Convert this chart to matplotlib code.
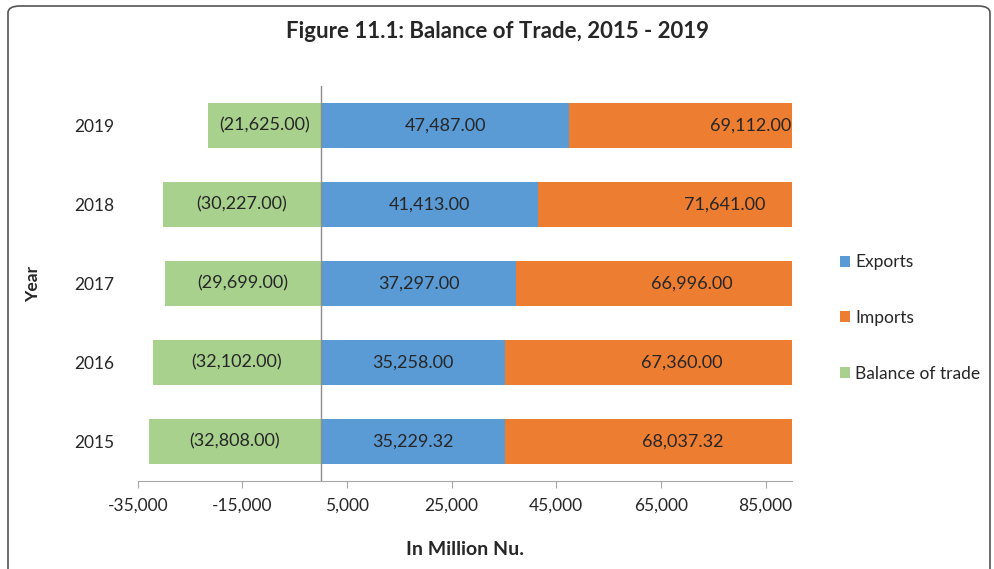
import matplotlib
import matplotlib.pyplot as plt
from matplotlib.patches import FancyBboxPatch

matplotlib.use('Agg')
plt.rcParams['font.family'] = ['Lato', 'DejaVu Sans']

years = ['2015', '2016', '2017', '2018', '2019']
exports = [35229.32, 35258.00, 37297.00, 41413.00, 47487.00]
imports = [68037.32, 67360.00, 66996.00, 71641.00, 69112.00]
balance = [-32808.00, -32102.00, -29699.00, -30227.00, -21625.00]

c_exp = '#5B9BD5'
c_imp = '#ED7D31'
c_bal = '#A9D18E'
txt = '#262626'

fig = plt.figure(figsize=(9.95, 5.69), dpi=100)
ax = fig.add_axes([0.1384, 0.1547, 0.6574, 0.6942])

y = list(range(len(years)))
h = 0.58
b_exp = ax.barh(y, exports, height=h, color=c_exp, label='Exports')
b_imp = ax.barh(y, imports, left=exports, height=h, color=c_imp, label='Imports')
b_bal = ax.barh(y, balance, height=h, color=c_bal, label='Balance of trade')

# labels sit at the middle of the full segment, even where the bar is cut off
for i in y:
    ax.text(exports[i] / 2, i, f'{exports[i]:,.2f}', ha='center', va='center',
            fontsize=13, color=txt)
    ax.text(exports[i] + imports[i] / 2, i, f'{imports[i]:,.2f}', ha='center', va='center',
            fontsize=13, color=txt)
    ax.text(balance[i] / 2, i, f'({abs(balance[i]):,.2f})', ha='center', va='center',
            fontsize=13, color=txt)

ax.set_xlim(-35000, 90000)
ax.set_ylim(-0.5, 4.5)
ax.set_xticks(range(-35000, 90000, 20000))
ax.set_xticklabels([f'{v:,}' for v in range(-35000, 90000, 20000)])
ax.set_yticks(y)
ax.set_yticklabels(years)
ax.axvline(0, color='#8c8c8c', lw=1)

for s in ['top', 'right', 'left']:
    ax.spines[s].set_visible(False)
ax.spines['bottom'].set_color('#a6a6a6')
ax.tick_params(axis='x', colors='#a6a6a6', labelcolor=txt, labelsize=12.5, length=5, pad=7)
ax.tick_params(axis='y', length=0, labelcolor=txt, labelsize=12.5, pad=17)

ax.set_xlabel('In Million Nu.', fontsize=14, fontweight='bold', color=txt, labelpad=20)
ax.set_ylabel('Year', fontsize=12.5, fontweight='bold', color=txt, labelpad=24)

fig.text(0.5, 0.944, 'Figure 11.1: Balance of Trade, 2015 - 2019', ha='center', va='center',
         fontsize=16, fontweight='bold', color=txt)

fig.legend(handles=[b_exp, b_imp, b_bal], loc='center left', bbox_to_anchor=(0.835, 0.441),
           frameon=False, fontsize=12.5, handlelength=0.6, handleheight=0.6,
           handletextpad=0.3, labelspacing=2.3, borderpad=0, labelcolor=txt)

border = FancyBboxPatch((8 / 995, -0.05), 982 / 995, 1.05 - 6 / 569,
                        boxstyle='round,pad=0,rounding_size=0.012',
                        transform=fig.transFigure, fill=False, ec='#555555', lw=1.2)
fig.patches.append(border)

fig.savefig('out.png', dpi=100)
